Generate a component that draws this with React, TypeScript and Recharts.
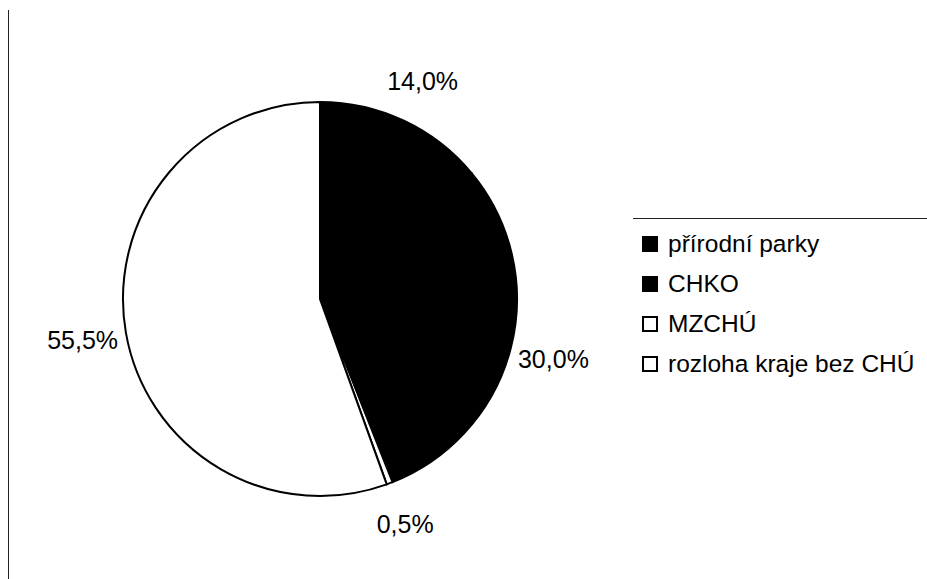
import React from 'react';
import { PieChart, Pie, Cell, Legend } from 'recharts';

const categories = ['přírodní parky', 'CHKO', 'MZCHÚ', 'rozloha kraje bez CHÚ'];
const shares = [14.0, 30.0, 0.5, 55.5];
const fills = ['#000000', '#000000', '#ffffff', '#ffffff'];

const data = categories.map((name, i) => ({ name, value: shares[i] }));

const FONT = '"Liberation Sans", Arial, sans-serif';
const RAD = Math.PI / 180;

const renderLabel = (props: any) => {
    const { cx, cy, midAngle, outerRadius, value } = props;
    const r = outerRadius + 44;
    const x = cx + r * Math.cos(-midAngle * RAD);
    const y = cy + r * Math.sin(-midAngle * RAD);
    return (
        <text
            x={x}
            y={y}
            textAnchor="middle"
            dominantBaseline="central"
            fontFamily={FONT}
            fontSize={25}
            fill="#000"
        >
            {value.toFixed(1).replace('.', ',') + '%'}
        </text>
    );
};

const renderLegend = (props: any) => {
    const payload = [...(props.payload || [])].sort(
        (a: any, b: any) => categories.indexOf(a.value) - categories.indexOf(b.value)
    );
    return (
        <div
            style={{
                borderTop: '1px solid #222',
                width: 294,
                paddingTop: 5,
                fontFamily: FONT,
                fontSize: 24.5,
                color: '#000',
            }}
        >
            {payload.map((entry: any) => {
                const i = categories.indexOf(entry.value);
                const filled = fills[i] === '#000000';
                return (
                    <div
                        key={entry.value}
                        style={{ display: 'flex', alignItems: 'center', height: 40, paddingLeft: 9 }}
                    >
                        <span
                            style={{
                                display: 'inline-block',
                                boxSizing: 'border-box',
                                width: 16,
                                height: 16,
                                background: filled ? '#000' : '#fff',
                                border: '2px solid #000',
                                marginRight: 10,
                            }}
                        />
                        <span style={{ whiteSpace: 'nowrap' }}>{entry.value}</span>
                    </div>
                );
            })}
        </div>
    );
};

export default function App() {
    return (
        <div style={{ position: 'absolute', left: 0, top: 0, width: 927, height: 579, background: '#fff' }}>
            <div
                style={{
                    position: 'absolute',
                    left: 8,
                    top: 10,
                    width: 1,
                    height: 569,
                    background: '#222',
                }}
            />
            <PieChart width={927} height={579} margin={{ top: 0, right: 0, bottom: 0, left: 0 }}>
                <Pie
                    data={data}
                    dataKey="value"
                    nameKey="name"
                    cx={320}
                    cy={299}
                    outerRadius={197}
                    startAngle={90}
                    endAngle={-270}
                    stroke="#000"
                    strokeWidth={2}
                    label={renderLabel}
                    labelLine={false}
                    isAnimationActive={false}
                >
                    {data.map((d, i) => (
                        <Cell key={d.name} fill={fills[i]} />
                    ))}
                </Pie>
                <Legend
                    layout="vertical"
                    content={renderLegend}
                    wrapperStyle={{ left: 633, top: 218, width: 294 }}
                />
            </PieChart>
        </div>
    );
}
